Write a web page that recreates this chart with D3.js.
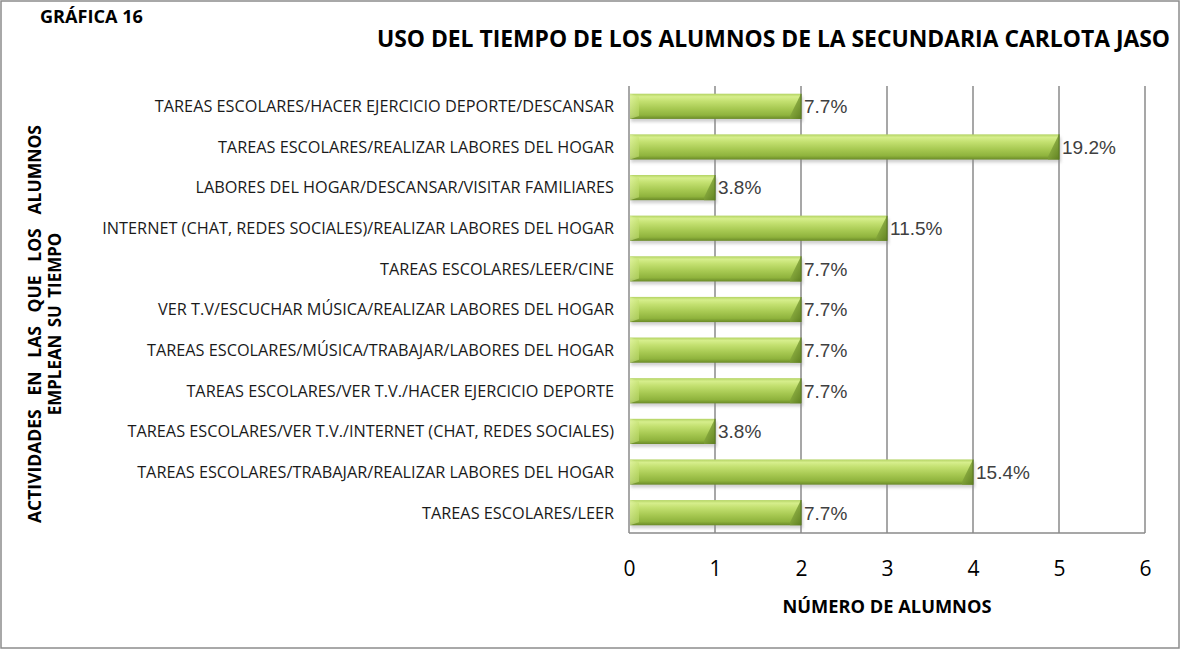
<!DOCTYPE html>
<html>
<head>
<meta charset="utf-8">
<script src="https://cdn.jsdelivr.net/npm/d3@7"></script>
<style>
  html, body { margin: 0; padding: 0; background: #fff; }
  svg { display: block; }
</style>
</head>
<body>
<svg id="chart" width="1180" height="649"></svg>
<script>
// Activities, listed top to bottom
const categories = [
  "TAREAS ESCOLARES/HACER EJERCICIO DEPORTE/DESCANSAR",
  "TAREAS ESCOLARES/REALIZAR LABORES DEL HOGAR",
  "LABORES DEL HOGAR/DESCANSAR/VISITAR FAMILIARES",
  "INTERNET (CHAT, REDES SOCIALES)/REALIZAR LABORES DEL HOGAR",
  "TAREAS ESCOLARES/LEER/CINE",
  "VER T.V/ESCUCHAR MÚSICA/REALIZAR LABORES DEL HOGAR",
  "TAREAS ESCOLARES/MÚSICA/TRABAJAR/LABORES DEL HOGAR",
  "TAREAS ESCOLARES/VER T.V./HACER EJERCICIO DEPORTE",
  "TAREAS ESCOLARES/VER T.V./INTERNET (CHAT, REDES SOCIALES)",
  "TAREAS ESCOLARES/TRABAJAR/REALIZAR LABORES DEL HOGAR",
  "TAREAS ESCOLARES/LEER"
];
// Number of students per activity
const values = [2, 5, 1, 3, 2, 2, 2, 2, 1, 4, 2];
// Share of the 26 students, as printed next to each bar
const percentLabels = ["7.7%", "19.2%", "3.8%", "11.5%", "7.7%", "7.7%", "7.7%", "7.7%", "3.8%", "15.4%", "7.7%"];
const xTicks = [0, 1, 2, 3, 4, 5, 6];

const svg = d3.select("#chart");
const W = 1180, H = 649;
const font = "'Open Sans', Lato, sans-serif";

// shrink/grow a text's font-size so its run spans the given width
function fitWidth(sel, width) {
  const fs = parseFloat(sel.attr("font-size"));
  const w = sel.node().getComputedTextLength();
  sel.attr("font-size", (fs * width / w).toFixed(2));
  return sel;
}
// widen the gaps between words so the run spans the given width
function spread(sel, width) {
  const w = sel.node().getComputedTextLength();
  const spaces = (sel.text().match(/ /g) || []).length;
  sel.attr("word-spacing", Math.max(0, (width - w) / spaces).toFixed(2));
  return sel;
}

// outer frame
svg.append("rect").attr("x", 1).attr("y", 1).attr("width", W - 2).attr("height", H - 2)
  .attr("fill", "#fff").attr("stroke", "#8c8c8c").attr("stroke-width", 1.5);

const plot = { left: 629, right: 1145, top: 86, bottom: 533 };

const x = d3.scaleLinear().domain([0, 6]).range([plot.left, plot.right]);
const y = d3.scaleBand().domain(categories).range([plot.top, plot.bottom]).paddingInner(0.38).paddingOuter(0.19);

// gradients and soft shadow
const defs = svg.append("defs");
const g1 = defs.append("linearGradient").attr("id", "barGrad").attr("x1", 0).attr("y1", 0).attr("x2", 0).attr("y2", 1);
[["0%", "#b3d363"], ["12%", "#d6ee8c"], ["30%", "#c3e070"], ["60%", "#a6c851"], ["85%", "#8fb33d"], ["100%", "#6a8a28"]]
  .forEach(([o, c]) => g1.append("stop").attr("offset", o).attr("stop-color", c));
const g2 = defs.append("linearGradient").attr("id", "endGrad").attr("x1", 0).attr("y1", 0).attr("x2", 1).attr("y2", 1);
[["0%", "#9cbf4c"], ["100%", "#5c7c20"]]
  .forEach(([o, c]) => g2.append("stop").attr("offset", o).attr("stop-color", c));
const g3 = defs.append("linearGradient").attr("id", "startGrad").attr("x1", 0).attr("y1", 0).attr("x2", 1).attr("y2", 0);
[["0%", "#e2f4a6"], ["100%", "#c3e070"]]
  .forEach(([o, c]) => g3.append("stop").attr("offset", o).attr("stop-color", c));
const shadow = defs.append("filter").attr("id", "soft").attr("x", "-5%").attr("y", "-30%").attr("width", "110%").attr("height", "160%");
shadow.append("feGaussianBlur").attr("stdDeviation", 1.8);

// vertical gridlines
svg.append("g").selectAll("line").data(xTicks.slice(1)).join("line")
  .attr("x1", d => x(d)).attr("x2", d => x(d))
  .attr("y1", plot.top).attr("y2", plot.bottom)
  .attr("stroke", "#8a8a8a").attr("stroke-width", 1.5);

// left and bottom axis lines
svg.append("line").attr("x1", plot.left).attr("x2", plot.left).attr("y1", plot.top).attr("y2", plot.bottom)
  .attr("stroke", "#8a8a8a").attr("stroke-width", 1.5);
svg.append("line").attr("x1", plot.left).attr("x2", plot.right).attr("y1", plot.bottom).attr("y2", plot.bottom)
  .attr("stroke", "#8a8a8a").attr("stroke-width", 1.5);

// bars
const rows = categories.map((c, i) => ({ c, v: values[i], p: percentLabels[i] }));
const bars = svg.append("g").selectAll("g").data(rows).join("g");
bars.append("rect")
  .attr("x", x(0) + 2).attr("y", d => y(d.c) + 3)
  .attr("width", d => x(d.v) - x(0)).attr("height", y.bandwidth())
  .attr("fill", "#8c8c8c").attr("opacity", 0.4).attr("filter", "url(#soft)");
bars.append("rect")
  .attr("x", x(0) + 1).attr("y", d => y(d.c))
  .attr("width", d => x(d.v) - x(0) - 1).attr("height", y.bandwidth())
  .attr("fill", "url(#barGrad)");
// light bevel at the start
bars.append("path")
  .attr("d", d => {
    const xs = x(0) + 1, y0 = y(d.c), h = y.bandwidth();
    return `M${xs},${y0} L${xs + 9},${y0 + 3} L${xs + 9},${y0 + h - 3} L${xs},${y0 + h} Z`;
  })
  .attr("fill", "url(#startGrad)").attr("opacity", 0.55);
// dark bevel at the end
bars.append("path")
  .attr("d", d => {
    const xe = x(d.v), y0 = y(d.c), h = y.bandwidth();
    return `M${xe - 11},${y0 + h - 3} L${xe},${y0} L${xe},${y0 + h} L${xe - 11},${y0 + h} Z`;
  })
  .attr("fill", "url(#endGrad)").attr("opacity", 0.85);
bars.append("line")
  .attr("x1", d => x(d.v)).attr("x2", d => x(d.v))
  .attr("y1", d => y(d.c)).attr("y2", d => y(d.c) + y.bandwidth())
  .attr("stroke", "#5d7d22").attr("stroke-width", 1.2);

// value labels
bars.append("text")
  .attr("x", d => x(d.v) + 3).attr("y", d => y(d.c) + y.bandwidth() / 2)
  .attr("dy", "0.36em")
  .attr("font-family", "'Liberation Sans', Arial, sans-serif").attr("font-size", 19)
  .attr("fill", "#404040")
  .text(d => d.p);

// category labels; size set so the longest spans the label column
const catText = svg.append("g").selectAll("text").data(categories).join("text")
  .attr("x", 614).attr("y", d => y(d) + y.bandwidth() / 2)
  .attr("dy", "0.36em").attr("text-anchor", "end")
  .attr("font-family", font).attr("font-size", 14).attr("fill", "#1a1a1a")
  .text(d => d);
const longest = d3.max(catText.nodes(), n => n.getComputedTextLength());
catText.attr("font-size", (14 * 512 / longest).toFixed(2));

// x tick labels
const xAxis = d3.axisBottom(x).tickValues(xTicks).tickSize(0).tickPadding(0).tickFormat(d3.format("d"));
const gx = svg.append("g").attr("transform", `translate(0,${plot.bottom + 43})`).call(xAxis);
gx.select(".domain").remove();
gx.selectAll("text").attr("font-family", font).attr("font-size", 21).attr("fill", "#000").attr("dy", "0");

// axis titles
fitWidth(svg.append("text").attr("x", 887).attr("y", 613).attr("text-anchor", "middle")
  .attr("font-family", font).attr("font-weight", "bold").attr("font-size", 14)
  .text("NÚMERO DE ALUMNOS"), 209);

const yt = svg.append("g").attr("transform", "translate(0,324) rotate(-90)");
const yl2 = yt.append("text").attr("x", 0).attr("y", 61).attr("text-anchor", "middle")
  .attr("font-family", font).attr("font-weight", "bold").attr("font-size", 16)
  .attr("word-spacing", 3)
  .text("EMPLEAN SU TIEMPO");
fitWidth(yl2, 183);
const yl1 = yt.append("text").attr("x", 0).attr("y", 41).attr("text-anchor", "middle")
  .attr("font-family", font).attr("font-weight", "bold").attr("font-size", 17.5)
  .text("ACTIVIDADES EN LAS QUE LOS ALUMNOS");
spread(yl1, 398);

// titles
fitWidth(svg.append("text").attr("x", 40).attr("y", 23)
  .attr("font-family", font).attr("font-weight", "bold").attr("font-size", 14)
  .text("GRÁFICA 16"), 103);
fitWidth(svg.append("text").attr("x", 1170).attr("y", 47).attr("text-anchor", "end")
  .attr("font-family", font).attr("font-weight", "bold").attr("font-size", 18)
  .text("USO DEL TIEMPO DE LOS ALUMNOS DE LA SECUNDARIA CARLOTA JASO"), 793);
</script>
</body>
</html>
